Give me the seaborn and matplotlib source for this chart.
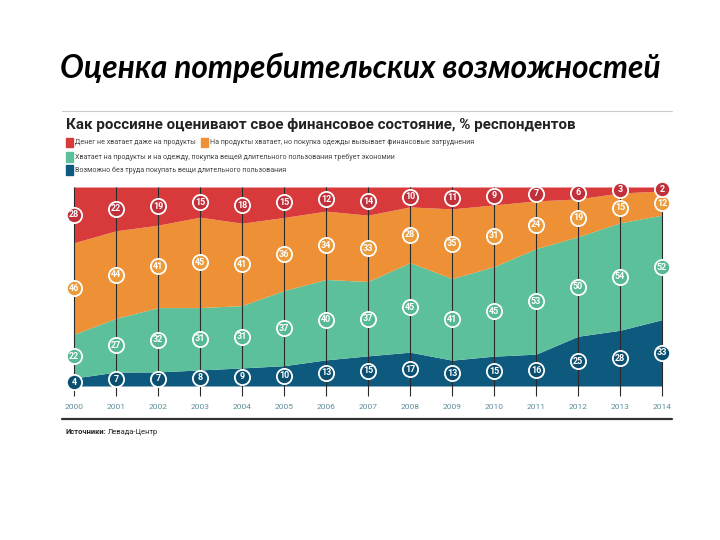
"""Оценка потребительских возможностей - stacked area of Levada survey shares"""
import numpy as np
import matplotlib
matplotlib.use("Agg")
import matplotlib.pyplot as plt
import seaborn as sns

years = list(range(2000, 2015))
# % respondents
no_food = [28, 22, 19, 15, 18, 15, 12, 14, 10, 11, 9, 7, 6, 3, 2]
food_only = [46, 44, 41, 45, 41, 36, 34, 33, 28, 35, 31, 24, 19, 15, 12]
food_clothes = [22, 27, 32, 31, 31, 37, 40, 37, 45, 41, 45, 53, 50, 54, 52]
durables = [4, 7, 7, 8, 9, 10, 13, 15, 17, 13, 15, 16, 25, 28, 33]

legend_labels = [
    "Денег не хватает даже на продукты",
    "На продукты хватает, но покупка одежды вызывает финансовые затруднения",
    "Хватает на продукты и на одежду, покупка вещей длительного пользования требует экономии",
    "Возможно без труда покупать вещи длительного пользования",
]

red, orange, green, blue = "#d83a3c", "#ee9035", "#5cc09a", "#0e5a7e"
# bottom -> top, same order as the stack
label_fill = ["#0b4f70", "#56b993", "#ec9a3a", "#c0303a"]

sns.set_theme(style="white")
plt.rcParams["font.family"] = ["Roboto", "DejaVu Sans"]

fig = plt.figure(figsize=(7.2, 5.4), dpi=100)

# slide title
fig.text(0.5, 0.874, "Оценка потребительских возможностей", ha="center", va="center",
         fontsize=22.8, style="italic", fontweight="bold", family=["Lato", "DejaVu Sans"],
         color="black")

# infographic header
fig.add_artist(plt.Line2D([62 / 720, 672 / 720], [1 - 111 / 540] * 2, color="#cccccc", lw=0.8))
fig.text(66 / 720, 1 - 125 / 540, "Как россияне оценивают свое финансовое состояние, % респондентов",
         ha="left", va="center", fontsize=10.9, fontweight="bold", color="#222222")

leg_pos = [(66, 142), (201, 142), (66, 157), (66, 170)]
for (px, py), lab, col in zip(leg_pos, legend_labels, [red, orange, green, blue]):
    fig.add_artist(plt.Rectangle((px / 720, 1 - (py + 4.5) / 540), 7 / 720, 9 / 540,
                                 color=col, transform=fig.transFigure))
    fig.text((px + 9) / 720, 1 - py / 540, lab, ha="left", va="center", fontsize=5.1,
             color="#444444")

# stacked area, shares normalised to 100
vals = np.array([durables, food_clothes, food_only, no_food], dtype=float)
shares = vals / vals.sum(axis=0) * 100
ax = fig.add_axes([74 / 720, 1 - 386 / 540, 588 / 720, 199 / 540])
ax.stackplot(years, shares, colors=[blue, green, orange, red], lw=0)
ax.set_xlim(years[0], years[-1])
ax.set_ylim(0, 100)
ax.vlines(years, -5, 100, color="#2a2a2a", lw=0.8, clip_on=False, zorder=3)

tops = shares.cumsum(axis=0)
mids = tops - shares / 2
for i in range(4):
    ax.scatter(years, mids[i], s=120, color=label_fill[i], edgecolor="white", linewidth=1.3,
               zorder=4, clip_on=False)
    for x, y, v in zip(years, mids[i], vals[i]):
        ax.text(x, y, f"{int(v)}", ha="center", va="center", fontsize=6.5, fontweight="bold",
                color="white", zorder=5, clip_on=False)

ax.set_xticks(years)
ax.set_xticklabels(years, fontsize=6, color="#5d8e9c")
ax.tick_params(axis="x", length=0, pad=13)
ax.set_yticks([])
sns.despine(ax=ax, left=True, bottom=True)

# footer
fig.add_artist(plt.Line2D([62 / 720, 672 / 720], [1 - 419 / 540] * 2, color="#333333", lw=1.6))
fig.text(66 / 720, 1 - 432 / 540, "Источники:", ha="left", va="center", fontsize=5.4,
         fontweight="bold", color="#222222")
fig.text(108 / 720, 1 - 432 / 540, "Левада-Центр", ha="left", va="center", fontsize=5.4,
         color="#222222")

fig.savefig("out.png", dpi=100, facecolor="white")
